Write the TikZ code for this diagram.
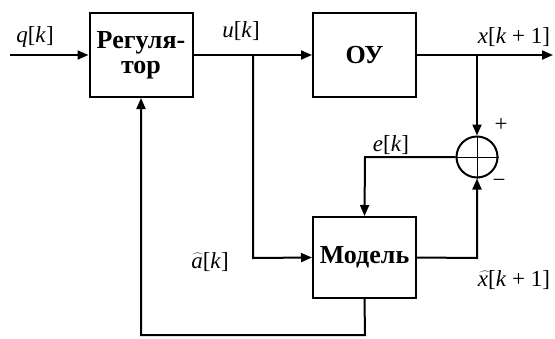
\documentclass[tikz,border=0pt]{standalone}
\usepackage{fontspec}
\setmainfont{Liberation Serif}
\usetikzlibrary{arrows.meta}
\tikzset{
  blk/.style={draw, line width=2pt, minimum width=103pt, minimum height=84pt,
    inner sep=0pt, align=center, font=\fontsize{26}{28}\selectfont\bfseries},
  wire/.style={line width=2pt},
  flow/.style={wire, -{Triangle[length=11pt,width=9pt]}},
  sig/.style={font=\fontsize{23}{25}\selectfont, inner sep=0pt},
}
\newcommand{\sv}[1]{\textit{#1}}
\newcommand{\hatted}[1]{\rlap{\raisebox{0.05em}{$\widehat{\phantom{#1}}$}}\sv{#1}}
\begin{document}
\begin{tikzpicture}[x=1pt,y=-1pt]
\useasboundingbox (0,0) rectangle (555,338);
% blocks
\node[blk] (reg) at (141,55) {Регуля-\\[-3pt]тор};
\node[blk] (ou) at (364.5,55) {ОУ};
\node[blk, minimum height=81pt] (model) at (364.5,257.5) {Модель};
\node[draw, circle, line width=2pt, minimum size=41pt, inner sep=0pt] (sum) at (477,157) {};
\draw[line width=0.8pt] (sum.north) -- (sum.south) (sum.west) -- (sum.east);
% branch and bend points
\coordinate (in) at (10,55);
\coordinate (out) at (553,55);
\coordinate (bu) at (253,55);
\coordinate (bx) at (477,55);
\coordinate (ebend) at (365,157);
\coordinate (ubend) at (253,258);
\coordinate (mbend) at (477,258);
\coordinate (fb1) at (365,335);
\coordinate (fb2) at (141,335);
% connectors
\draw[flow] (in) -- (reg.west);
\draw[flow] (reg.east) -- (ou.west);
\draw[flow] (ou.east) -- (out);
\draw[flow] (bx) -- (sum.north);
\draw[flow] (sum.west) -- (ebend) -- (model.north);
\draw[flow] (bu) -- (ubend) -- (model.west);
\draw[flow] (model.east) -- (mbend) -- (sum.south);
\draw[flow] (model.south) -- (fb1) -- (fb2) -- (reg.south);
% signal labels
\node[sig] (lq) at (35,37) {\sv{q}[\sv{k}]};
\node[sig] (lu) at (241,31) {\sv{u}[\sv{k}]};
\node[sig] (lx) at (514,37) {\sv{x}[\sv{k} + 1]};
\node[sig] (lp) at (501,125) {+};
\node[sig] (lm) at (499,183) {−};
\node[sig] (le) at (391,145) {\sv{e}[\sv{k}]};
\node[sig] (lxh) at (514,280) {\hatted{x}[\sv{k} + 1]};
\node[sig] (la) at (210,262) {\hatted{a}[\sv{k}]};
\end{tikzpicture}
\end{document}
